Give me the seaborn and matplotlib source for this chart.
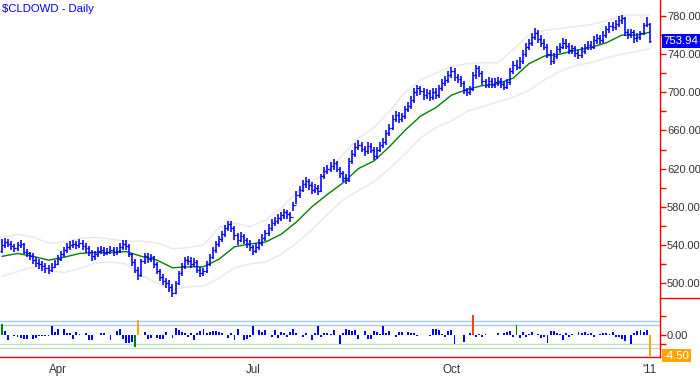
import numpy as np
import pandas as pd
import matplotlib
matplotlib.use("Agg")
import matplotlib.pyplot as plt
from matplotlib.lines import Line2D
import seaborn as sns

# ---- data -----------------------------------------------------------------
title = "$CLDOWD - Daily"
holidays = ["2010-04-02", "2010-05-31", "2010-07-05", "2010-09-06", "2010-11-25", "2010-12-24"]
dates = pd.bdate_range("2010-03-08", "2011-01-03", freq="C", holidays=holidays)

opens = [534, 540, 543, 541, 539, 537, 540, 541, 533, 531,
         528, 524, 521, 520, 518, 516, 514, 517, 520, 525,
         530, 535, 538, 540, 541, 540, 542, 539, 537, 533,
         528, 530, 534, 535, 532, 533, 535, 533, 534, 538,
         541, 539, 530, 522, 514, 508, 523, 528, 525, 527,
         520, 513, 506, 502, 500, 496, 490, 500, 510, 518,
         524, 523, 520, 522, 514, 510, 513, 520, 527, 535,
         541, 546, 551, 558, 562, 558, 550, 545, 549, 545,
         541, 538, 534, 538, 542, 547, 552, 558, 563, 565,
         568, 571, 574, 572, 569, 582, 592, 598, 604, 607,
         603, 598, 600, 597, 612, 618, 620, 623, 626, 620,
         615, 610, 608, 628, 635, 643, 645, 641, 638, 644,
         640, 633, 640, 645, 648, 657, 663, 672, 676, 672,
         675, 682, 686, 692, 700, 704, 701, 697, 699, 695,
         700, 697, 704, 710, 713, 718, 722, 716, 714, 710,
         702, 700, 703, 718, 725, 720, 712, 708, 712, 708,
         711, 712, 709, 706, 711, 722, 729, 727, 733, 740,
         748, 752, 758, 762, 756, 752, 748, 740, 733, 738,
         745, 748, 752, 749, 744, 746, 741, 739, 743, 747,
         750, 748, 755, 757, 755, 760, 766, 770, 768, 772,
         776, 778, 763, 761, 763, 757, 758, 762, 771, 772]
highs = [546, 547, 546, 544, 541, 543, 545, 542, 536, 533,
         531, 527, 525, 523, 521, 519, 521, 524, 529, 534,
         538, 542, 544, 545, 544, 546, 545, 542, 539, 535,
         534, 538, 539, 538, 537, 539, 538, 538, 542, 545,
         545, 541, 532, 525, 517, 525, 531, 531, 530, 528,
         522, 515, 509, 505, 503, 499, 502, 513, 521, 527,
         528, 527, 526, 524, 517, 516, 523, 530, 538, 544,
         549, 555, 561, 565, 565, 560, 552, 553, 551, 547,
         545, 540, 542, 546, 551, 556, 562, 567, 569, 572,
         575, 578, 577, 575, 585, 596, 602, 608, 611, 609,
         606, 604, 603, 614, 622, 624, 627, 630, 628, 622,
         618, 614, 631, 639, 647, 650, 648, 644, 648, 647,
         643, 643, 648, 652, 660, 667, 676, 680, 679, 678,
         686, 690, 696, 704, 708, 707, 704, 703, 702, 704,
         704, 708, 714, 717, 722, 727, 725, 719, 717, 712,
         705, 707, 721, 729, 728, 722, 714, 716, 715, 715,
         716, 715, 712, 714, 725, 733, 734, 737, 744, 752,
         756, 762, 767, 765, 760, 756, 751, 744, 741, 749,
         752, 757, 756, 752, 750, 749, 744, 747, 751, 754,
         754, 759, 761, 760, 764, 770, 774, 774, 776, 780,
         781, 779, 766, 766, 765, 762, 764, 773, 779, 773]
lows = [531, 537, 538, 535, 533, 534, 537, 530, 527, 524,
        520, 517, 515, 513, 511, 509, 512, 516, 519, 523,
        527, 532, 535, 537, 536, 537, 535, 532, 528, 523,
        524, 527, 530, 528, 529, 530, 528, 529, 532, 535,
        535, 527, 518, 510, 503, 506, 520, 521, 522, 516,
        509, 502, 498, 495, 491, 485, 488, 498, 507, 515,
        519, 516, 517, 510, 506, 507, 511, 518, 525, 532,
        538, 543, 548, 555, 554, 545, 540, 543, 541, 537,
        534, 529, 531, 535, 539, 544, 549, 555, 560, 562,
        565, 567, 567, 564, 576, 583, 589, 595, 600, 598,
        593, 594, 592, 595, 609, 614, 616, 619, 616, 610,
        606, 604, 606, 625, 632, 639, 637, 633, 635, 636,
        629, 630, 637, 642, 645, 654, 660, 669, 668, 669,
        672, 679, 683, 689, 696, 697, 692, 693, 691, 692,
        693, 694, 701, 707, 710, 715, 712, 710, 706, 698,
        696, 697, 701, 714, 716, 708, 704, 705, 704, 705,
        707, 705, 702, 703, 708, 719, 723, 724, 730, 737,
        744, 749, 755, 752, 748, 744, 736, 729, 730, 735,
        741, 745, 745, 740, 740, 737, 735, 736, 740, 744,
        744, 745, 751, 751, 752, 757, 762, 764, 765, 769,
        772, 759, 756, 757, 752, 753, 755, 760, 768, 752]
closes = [540, 543, 541, 539, 537, 540, 541, 533, 531, 528,
          524, 521, 520, 518, 516, 514, 517, 520, 525, 530,
          535, 538, 540, 541, 540, 542, 539, 537, 533, 528,
          530, 534, 535, 532, 533, 535, 533, 534, 538, 541,
          539, 530, 522, 514, 508, 523, 528, 525, 527, 520,
          513, 506, 502, 500, 496, 490, 500, 510, 518, 524,
          523, 520, 522, 514, 510, 513, 520, 527, 535, 541,
          546, 551, 558, 562, 558, 550, 545, 549, 545, 541,
          538, 534, 538, 542, 547, 552, 558, 563, 565, 568,
          571, 574, 572, 569, 582, 592, 598, 604, 607, 603,
          598, 600, 597, 612, 618, 620, 623, 626, 620, 615,
          610, 608, 628, 635, 643, 645, 641, 638, 644, 640,
          633, 640, 645, 648, 657, 663, 672, 676, 672, 675,
          682, 686, 692, 700, 704, 701, 697, 699, 695, 700,
          697, 704, 710, 713, 718, 722, 716, 714, 710, 702,
          700, 703, 718, 725, 720, 712, 708, 712, 708, 711,
          712, 709, 706, 711, 722, 729, 727, 733, 740, 748,
          752, 758, 762, 756, 752, 748, 740, 733, 738, 745,
          748, 752, 749, 744, 746, 741, 739, 743, 747, 750,
          748, 755, 757, 755, 760, 766, 770, 768, 772, 776,
          778, 763, 761, 763, 757, 758, 762, 771, 772, 753.94]

# moving average and envelope, read every 5th session (plus the last one)
ma_at = [0, 5, 10, 15, 20, 25, 30, 35, 40, 45, 50, 55, 60, 65, 70, 75, 80, 85, 90, 95, 100,
         105, 110, 115, 120, 125, 130, 135, 140, 145, 150, 155, 160, 165, 170, 175, 180, 185,
         190, 195, 200, 205, 209]
ma = [528, 531, 528, 524, 527, 531, 532, 532, 533, 528, 524, 516, 517, 517, 525, 538, 541,
      543, 551, 564, 580, 593, 605, 620, 628, 643, 660, 675, 684, 697, 703, 707, 709, 715,
      730, 738, 740, 744, 747, 752, 760, 760, 763]
band_up = [548, 551, 548, 542, 543, 547, 548, 546, 544, 544, 542, 536, 537, 540, 558, 563,
           559, 566, 578, 595, 607, 615, 635, 652, 663, 680, 700, 713, 720, 727, 730, 731,
           731, 745, 760, 765, 767, 769, 771, 775, 781, 781, 781]
band_dn = [507, 512, 517, 513, 511, 515, 521, 522, 520, 508, 500, 493, 496, 497, 505, 516,
           520, 522, 530, 542, 556, 572, 587, 597, 606, 620, 635, 652, 663, 670, 680, 685,
           690, 695, 702, 713, 722, 728, 731, 736, 740, 743, 746]

# lower panel histogram
osc = [2.5, 1.0, -1.0, 0.2, -0.2, -0.3, -0.5, -0.7, -0.7, 0.15,
       -0.7, -0.5, -0.2, -0.2, -0.2, -0.2, 2.1, 0.7, 1.4, 0.15,
       1.5, 0.5, 0.5, -0.7, 0.8, 0.3, 0.15, 0.5, -1.0, -1.0,
       0.15, 0.15, 0.5, 0.5, 0.15, -1.0, 0.15, 1.0, 1.5, -0.7,
       -1.7, -1.7, -1.4, -2.5, 3.5, 0.15, 0.8, -0.7, -0.5, 0.15,
       -0.5, -0.8, -0.8, 0.7, 0.15, -0.5, 1.7, 1.3, 0.8, 0.6,
       -0.3, 0.5, -1.0, 0.5, 1.0, 1.5, 0.6, 0.8, 1.0, 1.0,
       0.8, 0.5, 0.15, -0.6, 0.5, -1.1, 1.4, 0.15, -1.0, -0.8,
       -0.3, 2.0, 0.15, 1.2, 0.8, 1.3, 0.15, -0.3, 1.2, -0.5,
       0.8, 0.5, -0.3, 0.8, 1.5, 0.6, 0.15, -0.3, 0.6, 0.15,
       -1.0, 0.5, 2.2, -0.3, 0.5, 0.5, 0.3, 1.1, 0.15, -2.0,
       0.5, 1.4, 1.2, 1.0, 1.2, -0.8, 0.15, 1.0, -0.7, -0.8,
       1.0, 0.8, 0.3, 2.0, 0.6, 1.0, 0.15, -0.4, 0.8, 0.8,
       0.15, 0.8, 0.6, 0.6, -0.2, 0.15, 0.15, 0.15, -0.2, 1.4,
       1.4, 1.2, 0.4, -0.4, 1.0, 1.1, -1.8, 0.15, 0.15, -1.4,
       0.15, 0.5, 4.6, -0.4, 0.3, -0.3, 0.3, 0.15, 0.15, 0.15,
       0.5, 0.15, 0.5, 0.8, 1.0, -0.3, 2.4, -0.5, 0.8, -0.3,
       0.3, 0.8, 0.15, 0.3, -0.6, -0.4, -1.6, 0.9, 1.0, 0.6,
       0.3, -1.0, 0.5, -0.3, 0.3, 0.15, 0.8, 0.6, 0.8, 0.3,
       0.5, -0.3, 0.15, 0.3, 0.6, 0.5, 0.3, 0.8, -0.3, -0.4,
       -0.7, -1.2, 0.15, -1.8, 0.6, 1.0, 1.2, 0.7, 1.1, -4.5]
osc_last = "-4.50"
upper_refs = [3.2, 2.3]
lower_refs = [-1.9, -2.8]

price_ticks = [500, 540, 580, 620, 660, 700, 740, 780]
quarter_labels = {4: "Apr", 7: "Jul", 10: "Oct", 1: "'11"}

# ---- styling ---------------------------------------------------------------
sns.set_theme(style="white")
plt.rcParams['font.family'] = ['Liberation Sans', 'DejaVu Sans']

RED = '#ff0000'
BLUE = '#0000ff'
TXT = '#333333'
special = {0: '#008000', 43: '#008000', 44: '#ffa500', 152: '#ff4000', 166: '#008000', 209: '#ffa500'}

W, H = 700, 377
fig = plt.figure(figsize=(W / 100, H / 100), dpi=100)
ax = fig.add_axes([0, 1 - 298 / H, 660 / W, 298 / H])
axl = fig.add_axes([0, 1 - 357 / H, 660 / W, 59 / H], sharex=ax)

idx = np.arange(len(closes))

# envelope + moving average
sns.lineplot(x=ma_at, y=band_up, ax=ax, color='#e8e8e8', lw=1.0)
sns.lineplot(x=ma_at, y=band_dn, ax=ax, color='#e8e8e8', lw=1.0)
sns.lineplot(x=ma_at, y=ma, ax=ax, color='#008000', lw=1.0)

# OHLC bars
ax.vlines(idx, lows, highs, color=BLUE, lw=1.15)
ax.hlines(opens, idx - 0.55, idx, color=BLUE, lw=0.9)
ax.hlines(closes, idx, idx + 0.55, color=BLUE, lw=0.9)

ax.set_xlim(-0.65, 212.3)
ax.set_ylim(484.3, 796.8)

for s in ['top', 'left', 'bottom']:
    ax.spines[s].set_visible(False)
ax.spines['right'].set_color(RED)
ax.spines['right'].set_linewidth(1.0)
ax.yaxis.tick_right()
ax.set_yticks(price_ticks)
ax.set_yticklabels([f"{v:.2f}" for v in price_ticks])
ax.set_yticks([v + 20 for v in price_ticks[:-1]], minor=True)
ax.tick_params(axis='y', which='both', direction='out', color=RED, length=4, width=1,
               labelsize=8, labelcolor=TXT, pad=1)
ax.tick_params(axis='x', which='both', bottom=False, labelbottom=False)
ax.set_xlabel("")
ax.set_ylabel("")

ax.annotate(f"{closes[-1]:.2f}", xy=(1.0, closes[-1]), xycoords=('axes fraction', 'data'),
            xytext=(2.5, 0), textcoords='offset points', va='center', ha='left',
            fontsize=8.2, color='white', annotation_clip=False,
            bbox=dict(boxstyle='square,pad=0.15', fc=BLUE, ec='none'))

fig.text(2 / W, 1 - 8.5 / H, title, color=BLUE, fontsize=8.2, ha='left', va='center')

# lower panel
bar_colors = [special.get(i, BLUE) for i in idx]
axl.bar(idx, osc, width=0.62, color=bar_colors, linewidth=0)
for v in upper_refs:
    axl.axhline(v, color='#a9c9f2', lw=1.0, zorder=0)
for v in lower_refs:
    axl.axhline(v, color='#bfe0bf', lw=1.0, zorder=0)
axl.set_ylim(-4.78, 8.3)
for s in ['top', 'left']:
    axl.spines[s].set_visible(False)
for s in ['right', 'bottom']:
    axl.spines[s].set_color(RED)
    axl.spines[s].set_linewidth(1.0)
axl.yaxis.tick_right()
axl.set_yticks([0])
axl.set_yticklabels(["0.00"])
axl.set_yticks([-1.9, 4.2], minor=True)
axl.tick_params(axis='y', which='both', direction='out', color=RED, length=4, width=1,
                labelsize=8, labelcolor=TXT, pad=1)

# month ticks from the session dates
month_first = pd.Series(idx, index=dates).groupby([dates.year, dates.month]).first()
major_pos, major_lab, minor_pos = [], [], []
for (yr, mo), pos in month_first.items():
    if pos == 0:
        continue
    if mo in quarter_labels:
        major_pos.append(pos)
        major_lab.append(quarter_labels[mo])
    else:
        minor_pos.append(pos)
axl.set_xticks(major_pos)
axl.set_xticklabels(major_lab)
axl.set_xticks(minor_pos, minor=True)
axl.tick_params(axis='x', which='major', direction='out', color=RED, length=4, width=1,
                labelsize=8.4, labelcolor=TXT, pad=1)
axl.tick_params(axis='x', which='minor', direction='out', color=RED, length=3, width=1)

axl.annotate(osc_last, xy=(1.0, osc[-1]), xycoords=('axes fraction', 'data'),
             xytext=(2.5, 0), textcoords='offset points', va='center', ha='left',
             fontsize=8.2, color='white', annotation_clip=False,
             bbox=dict(boxstyle='square,pad=0.15', fc='#ffa500', ec='none'))

# separator on the right scale between the two panels
fig.add_artist(Line2D([660 / W, 1], [1 - 298 / H] * 2, color=RED, lw=1.0))

fig.savefig("out.png", dpi=100)
